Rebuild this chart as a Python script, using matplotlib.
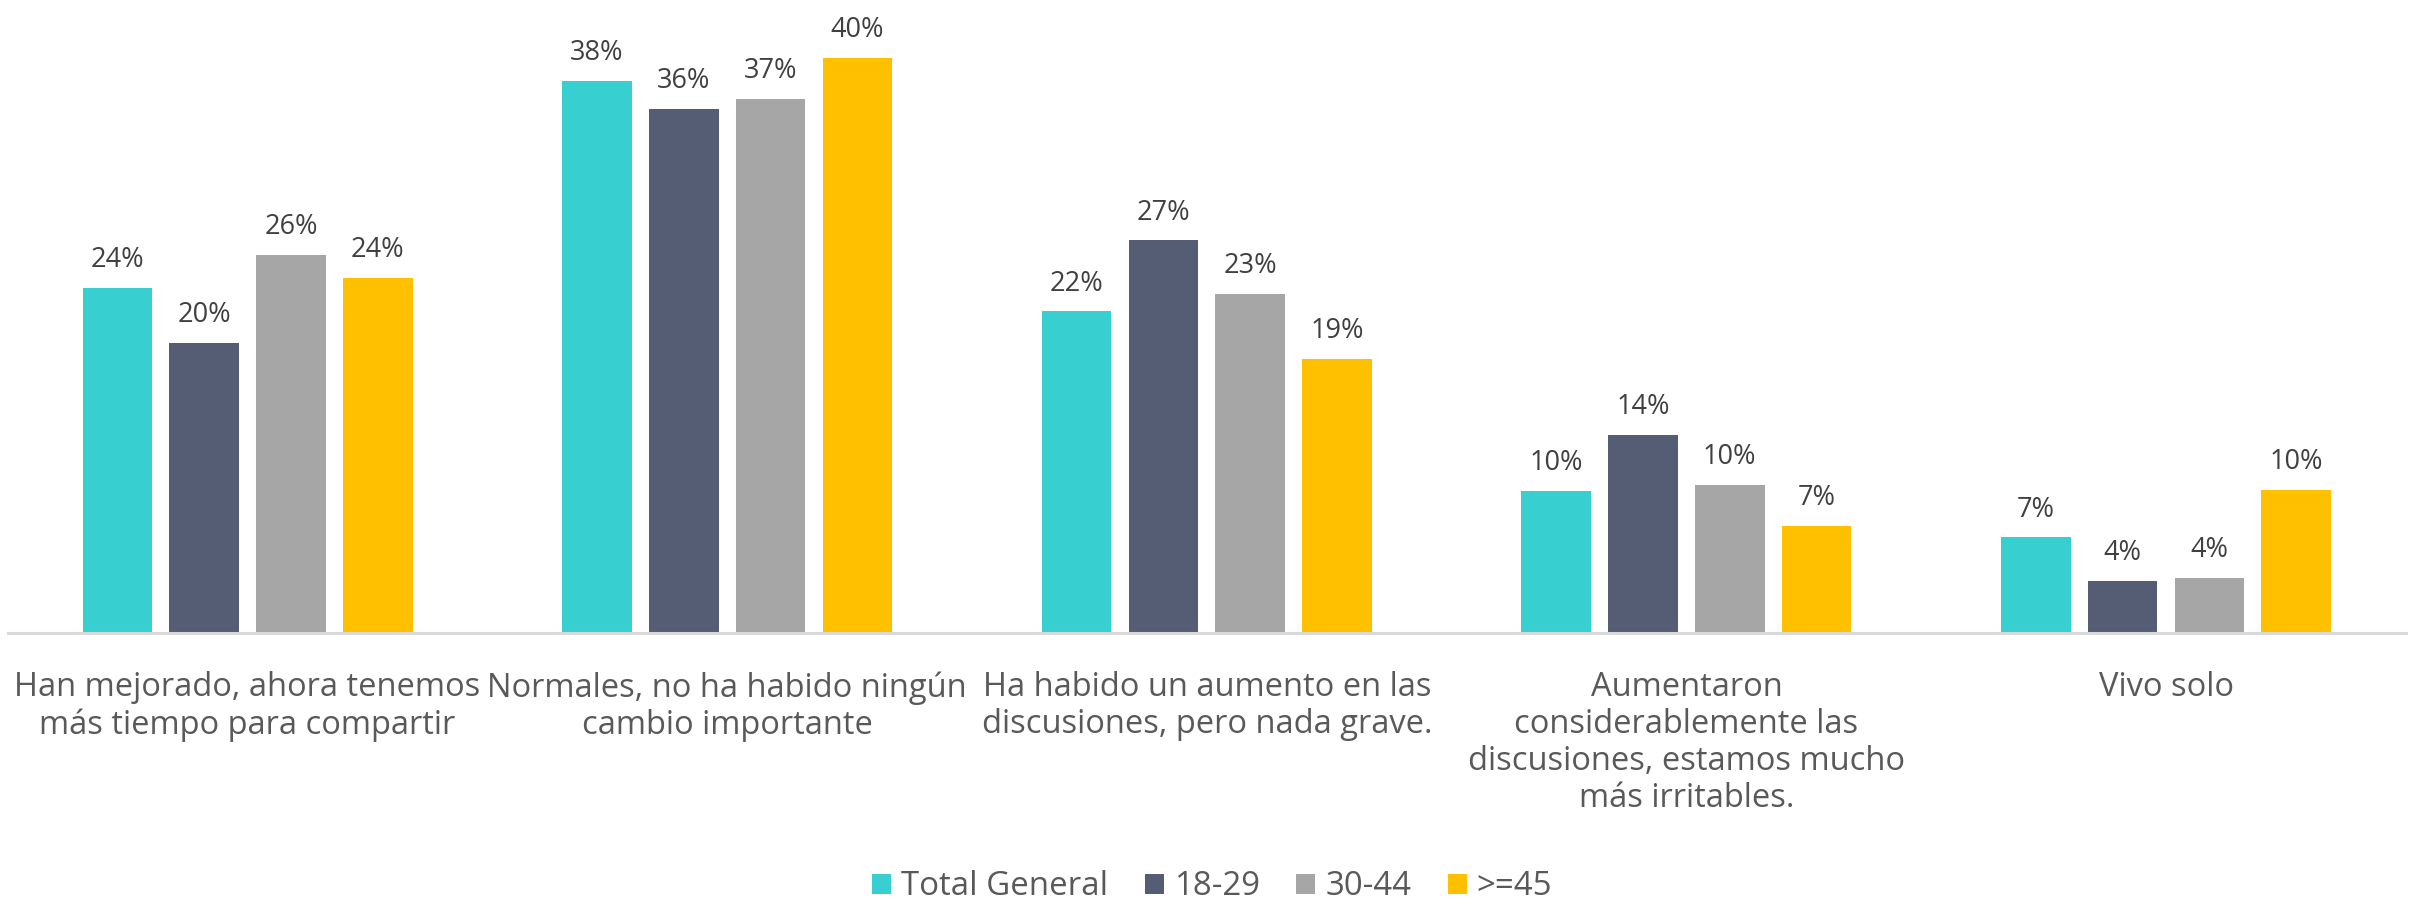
import numpy as np
import matplotlib
matplotlib.use("Agg")
import matplotlib.pyplot as plt

# categories (x axis) and series values
categories = [
    "Han mejorado, ahora tenemos\nmás tiempo para compartir",
    "Normales, no ha habido ningún\ncambio importante",
    "Ha habido un aumento en las\ndiscusiones, pero nada grave.",
    "Aumentaron\nconsiderablemente las\ndiscusiones, estamos mucho\nmás irritables.",
    "Vivo solo",
]
series_names = ["Total General", "18-29", "30-44", ">=45"]
total_general = [23.8, 38.1, 22.2, 9.8, 6.6]
age_18_29 = [20.0, 36.2, 27.1, 13.7, 3.6]
age_30_44 = [26.1, 36.9, 23.4, 10.2, 3.8]
age_45_plus = [24.5, 39.7, 18.9, 7.4, 9.9]
colors = ["#38CFD1", "#555D75", "#A6A6A6", "#FFC000"]

plt.rcParams["font.family"] = ["Open Sans", "DejaVu Sans"]
label_color = "#404040"
text_color = "#595959"

fig = plt.figure(figsize=(24.15, 9.06), dpi=100)
ax = fig.add_axes([0.0032, 0.3013, 0.993, 0.6987])

x = np.arange(len(categories))
step = 0.181
width = 0.145
all_series = [total_general, age_18_29, age_30_44, age_45_plus]
for i, (vals, name, col) in enumerate(zip(all_series, series_names, colors)):
    pos = x + (i - 1.5) * step
    bars = ax.bar(pos, vals, width=width, color=col, label=name)
    for b, v in zip(bars, vals):
        ax.annotate(f"{round(v):.0f}%", (b.get_x() + b.get_width() / 2, v),
                    xytext=(0, 10), textcoords="offset points",
                    ha="center", va="bottom", fontsize=19.5, color=label_color)

ax.set_xlim(-0.5, 4.5)
ax.set_ylim(0, 43.7)
ax.set_yticks([])
for s in ["top", "right", "left"]:
    ax.spines[s].set_visible(False)
ax.spines["bottom"].set_color("#D9D9D9")
ax.spines["bottom"].set_linewidth(2.2)
ax.set_xticks(x)
ax.set_xticklabels(categories, fontsize=23.5, color=text_color, linespacing=1.16)
ax.tick_params(axis="x", length=0, pad=27.5)

fig.legend(loc="center", bbox_to_anchor=(0.502, 0.021), ncol=4, frameon=False,
           fontsize=23.8, handlelength=0.58, handleheight=0.58,
           handletextpad=0.3, columnspacing=1.1, labelcolor=text_color)

fig.savefig("out.png", dpi=100)
